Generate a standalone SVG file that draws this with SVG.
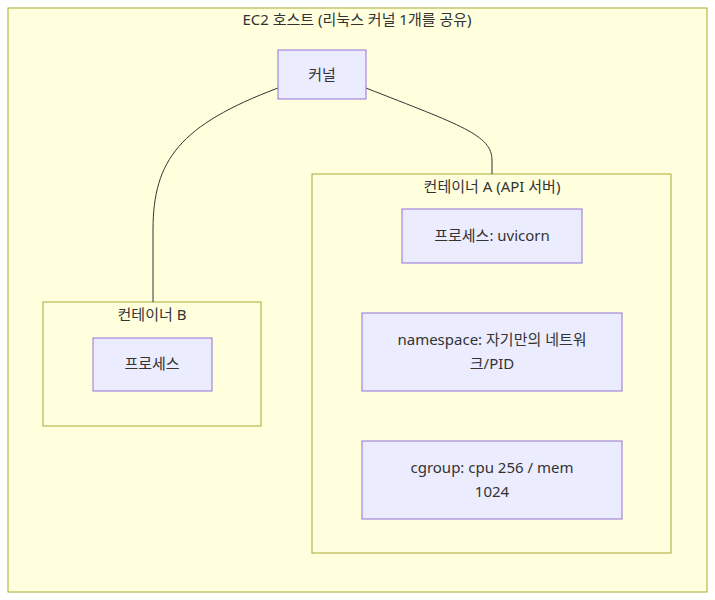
<svg xmlns="http://www.w3.org/2000/svg" width="715" height="600" viewBox="0 0 715 600">
<style>
.cl{fill:#ffffde;stroke:#aaaa33;stroke-width:1}
.nd{fill:#ECECFF;stroke:#9370DB;stroke-width:1}
text{font-family:"Noto Sans","Noto Sans CJK KR",sans-serif;font-size:15px;fill:#333;text-anchor:middle}
.e{fill:none;stroke:#333;stroke-width:1}
</style>
<rect width="715" height="600" fill="#fff"/>
<g id="host"><rect class="cl" x="8" y="8" width="699" height="584"/><text x="357" y="25">EC2 호스트 (리눅스 커널 1개를 공유)</text></g>
<g id="containerA"><rect class="cl" x="312" y="174" width="359" height="379"/><text x="492" y="192">컨테이너 A (API 서버)</text></g>
<g id="containerB"><rect class="cl" x="43" y="302" width="218" height="124"/><text x="152" y="320">컨테이너 B</text></g>
<g id="edges">
<path class="e" d="M278,88 C180,125 153,160 153,230 L153,302"/>
<path class="e" d="M366,88 C460,125 492,135 492,160 L492,174"/>
</g>
<g id="kernel"><rect class="nd" x="278" y="50" width="88" height="49"/><text x="322" y="80">커널</text></g>
<g id="uvicorn"><rect class="nd" x="402" y="209" width="180" height="54"/><text x="492" y="241">프로세스: uvicorn</text></g>
<g id="namespace"><rect class="nd" x="362" y="313" width="260" height="78"/><text x="492" y="345">namespace: 자기만의 네트워</text><text x="492" y="369">크/PID</text></g>
<g id="cgroup"><rect class="nd" x="362" y="441" width="260" height="78"/><text x="492" y="473">cgroup: cpu 256 / mem</text><text x="492" y="497">1024</text></g>
<g id="procB"><rect class="nd" x="93" y="338" width="119" height="53"/><text x="152" y="369">프로세스</text></g>
</svg>
